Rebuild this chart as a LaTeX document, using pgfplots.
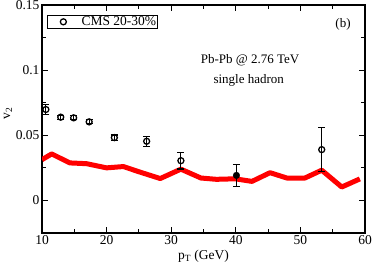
\documentclass[border=0pt]{standalone}
\usepackage{pgfplots}
\pgfplotsset{compat=1.18}
\usepackage{fontspec}
\setmainfont{Liberation Serif}
\begin{document}
\begin{tikzpicture}
\begin{axis}[
  scale only axis, width=323bp, height=228bp,
  xmin=10, xmax=60, ymin=-0.025, ymax=0.15,
  xtick={10,20,30,40,50,60},
  minor xtick={15,25,35,45,55},
  ytick={0,0.05,0.1,0.15},
  yticklabels={0,0.05,0.1,0.15},
  minor ytick={-0.025,0.025,0.075,0.125},
  tick align=inside,
  major tick length=6bp, minor tick length=4bp,
  every tick/.style={black, line width=1pt},
  axis line style={line width=1.1pt},
  ticklabel style={font=\fontsize{13.5bp}{15bp}\selectfont},
  xticklabel style={yshift=1bp},
  yticklabel style={xshift=1bp},
  /pgf/number format/assume math mode=true,
  xlabel={p\textsubscript{T} (GeV)},
  ylabel={v\textsubscript{2}},
  label style={font=\fontsize{13.5bp}{15bp}\selectfont},
  xlabel style={at={(rel axis cs:0.5,0)}, anchor=center, yshift=-23bp},
  ylabel style={at={(rel axis cs:0,0.525)}, anchor=center, yshift=34bp},
  legend style={at={(rel axis cs:0.0155,0.956)}, anchor=north west,
    draw=black, line width=0.7pt, font=\fontsize{13.5bp}{15bp}\selectfont,
    inner xsep=0pt, inner ysep=0pt, nodes={inner sep=1.2pt}, row sep=0pt, legend cell align=left},
  legend image code/.code={\path[draw=none, fill=none] (0,0) -- (33bp,0); \draw[#1, line width=1.3pt] (16bp,0) circle (3bp);},
]
\addplot[red, line width=5bp, line join=round, forget plot] coordinates {
(10,0.0313) (11.5,0.0357) (14.3,0.0288) (16.9,0.0282) (20.0,0.0250)
(22.6,0.0260) (25.0,0.0220) (28.3,0.0168) (31.5,0.0240) (34.6,0.0172)
(37.0,0.0162) (39.9,0.0166) (42.5,0.0146) (45.3,0.0213) (47.9,0.0172)
(50.7,0.0172) (53.3,0.0232) (56.4,0.0103) (59.2,0.0165)
};
\addplot[black, only marks, mark=o, mark size=3bp, line width=1.3pt,
  error bars/.cd, y dir=both, y explicit,
  error bar style={line width=1.1pt}, error mark options={rotate=90, mark size=3.5bp, line width=1.1pt}]
 coordinates {
(10.6,0.0698) +- (0,0.004)
(12.9,0.0639) +- (0,0.0015)
(14.9,0.0634) +- (0,0.0015)
(17.3,0.0603) +- (0,0.0015)
(21.2,0.0482) +- (0,0.002)
(26.2,0.0454) +- (0,0.004)
(31.5,0.0305) +- (0,0.0064)
(53.3,0.0390) +- (0,0.017)
};
\addlegendentry{CMS 20-30\%}
\addplot[black, only marks, mark=*, mark size=3.3bp, forget plot,
  error bars/.cd, y dir=both, y explicit,
  error bar style={line width=1.1pt}, error mark options={rotate=90, mark size=3.5bp, line width=1.1pt}]
 coordinates {(40.1,0.0192) +- (0,0.0083)};
\node[font=\fontsize{13bp}{15bp}\selectfont] at (axis cs:56.6,0.135) {(b)};
\node[font=\fontsize{13bp}{15bp}\selectfont] at (axis cs:42.2,0.1075) {Pb-Pb @ 2.76 TeV};
\node[font=\fontsize{13bp}{15bp}\selectfont] at (axis cs:42.0,0.0925) {single hadron};
\end{axis}
\pgfresetboundingbox
\path[use as bounding box] ([shift={(-42bp,-32bp)}]current axis.south west) rectangle ([shift={(9bp,5bp)}]current axis.north east);
\end{tikzpicture}
\end{document}
